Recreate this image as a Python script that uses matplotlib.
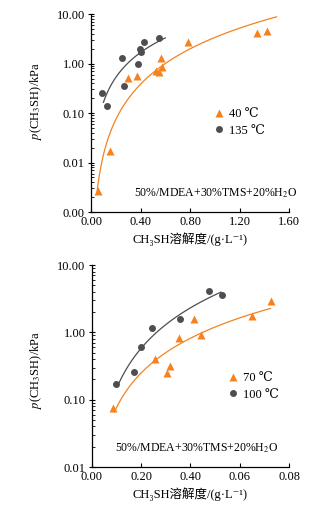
import numpy as np
import matplotlib
matplotlib.use("Agg")
import matplotlib.pyplot as plt
from matplotlib.ticker import FormatStrFormatter, LogLocator, NullFormatter

plt.rcParams['font.family'] = ['Liberation Serif', 'DejaVu Serif', 'Noto Sans CJK SC']
plt.rcParams['mathtext.fontset'] = 'stix'

# top panel data
x40 = [0.054, 0.153, 0.30, 0.368, 0.524, 0.55, 0.575, 0.562, 0.78, 1.344, 1.425]
y40 = [0.0026, 0.017, 0.52, 0.57, 0.72, 0.68, 0.85, 1.30, 2.7, 4.2, 4.6]
x135 = [0.091, 0.127, 0.25, 0.266, 0.38, 0.398, 0.40, 0.425, 0.546]
y135 = [0.25, 0.14, 1.3, 0.35, 1.0, 2.0, 1.75, 2.75, 3.3]

# bottom panel data
x70 = [0.0085, 0.0258, 0.0304, 0.0316, 0.0352, 0.0414, 0.0444, 0.0648, 0.0726]
y70 = [0.075, 0.40, 0.245, 0.32, 0.83, 1.58, 0.90, 1.77, 2.95]
x100 = [0.0098, 0.0171, 0.0201, 0.0243, 0.0357, 0.0476, 0.0528]
y100 = [0.169, 0.257, 0.60, 1.16, 1.59, 4.15, 3.55]

# ranges the fitted curves were drawn over
range40 = [0.046, 1.5]
range135 = [0.10, 0.60]
range70 = [0.0092, 0.0725]
range100 = [0.0104, 0.0524]

top_xticks = [0.0, 0.4, 0.8, 1.2, 1.6]
top_xlabels = ["0.00", "0.40", "0.80", "1.20", "1.60"]
bot_xticks = [0.0, 0.02, 0.04, 0.06, 0.08]
bot_xlabels = ["0.00", "0.20", "0.40", "0.06", "0.08"]

note = r"50%/MDEA+30%TMS+20%H$_2$O"
xlab = "CH\u2083SH溶解度/(g\u00b7L\u207b\u00b9)"
ylab = r"$p$(CH$_3$SH)/kPa"

orange = "#f5821f"
grey = "#4d4d52"


def powerfit(ax, x, y, rng, color):
    # power law fit y = a*x^b, like a trendline
    b, a = np.polyfit(np.log(x), np.log(y), 1)
    xs = np.linspace(rng[0], rng[1], 200)
    ax.plot(xs, np.exp(a) * xs ** b, color=color, lw=0.9)


def style(ax, ylab_y):
    ax.set_yscale('log')
    ax.spines['top'].set_visible(False)
    ax.spines['right'].set_visible(False)
    ax.spines['left'].set_linewidth(0.9)
    ax.spines['bottom'].set_linewidth(0.9)
    ax.yaxis.set_major_formatter(FormatStrFormatter('%.2f'))
    ax.yaxis.set_minor_locator(LogLocator(base=10, subs=np.arange(2, 10)))
    ax.yaxis.set_minor_formatter(NullFormatter())
    ax.tick_params(axis='x', direction='in', length=3, width=0.8, labelsize=9, pad=3)
    ax.tick_params(axis='y', which='major', direction='inout', length=5, width=0.8, labelsize=9, pad=2)
    ax.tick_params(axis='y', which='minor', direction='in', length=2, width=0.6)
    ax.set_xlabel(xlab, fontsize=9, labelpad=3)
    ax.set_ylabel(ylab, fontsize=9)
    ax.yaxis.set_label_coords(-0.24, ylab_y)


def legend(ax, x0, y0):
    ax.legend(loc='center left', bbox_to_anchor=(x0, y0), frameon=False, fontsize=9,
              handletextpad=0.3, labelspacing=0.36, handlelength=1.0, borderpad=0,
              borderaxespad=0)


fig = plt.figure(figsize=(3.24, 5.14), dpi=100)

ax1 = fig.add_axes([0.281, 0.5875, 0.611, 0.385])
style(ax1, 0.56)
ax1.plot(x40, y40, '^', color=orange, ms=5.5, mec='none', label='40 ℃')
ax1.plot(x135, y135, 'o', color=grey, ms=5, mec='none', label='135 ℃')
powerfit(ax1, x40, y40, range40, orange)
powerfit(ax1, x135, y135, range135, grey)
ax1.set_xlim(0, 1.6)
ax1.set_ylim(0.001, 10)
ax1.set_xticks(top_xticks)
ax1.set_xticklabels(top_xlabels)
ax1.text(0.217, 0.096, note, transform=ax1.transAxes, fontsize=8.5, va='center')
legend(ax1, 0.615, 0.452)

ax2 = fig.add_axes([0.283, 0.0914, 0.609, 0.393])
style(ax2, 0.48)
ax2.plot(x70, y70, '^', color=orange, ms=5.5, mec='none', label='70 ℃')
ax2.plot(x100, y100, 'o', color=grey, ms=5, mec='none', label='100 ℃')
powerfit(ax2, x70, y70, range70, orange)
powerfit(ax2, x100, y100, range100, grey)
ax2.set_xlim(0, 0.08)
ax2.set_ylim(0.01, 10)
ax2.set_xticks(bot_xticks)
ax2.set_xticklabels(bot_xlabels)
ax2.text(0.118, 0.094, note, transform=ax2.transAxes, fontsize=8.5, va='center')
legend(ax2, 0.685, 0.398)

fig.savefig("out.png", dpi=100)
